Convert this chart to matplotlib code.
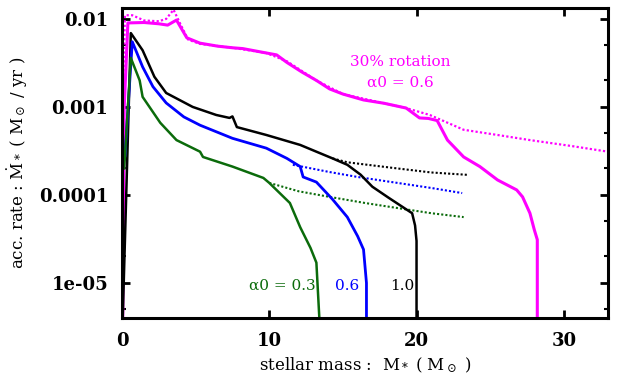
import numpy as np
import matplotlib
matplotlib.use("Agg")
from matplotlib import pyplot as plt
from matplotlib.ticker import LogLocator, NullFormatter, FixedLocator

plt.rcParams["mathtext.fontset"] = "dejavuserif"
plt.rcParams["font.family"] = "DejaVu Serif"

# %%
# accretion histories (stellar mass [Msun], accretion rate [Msun/yr])
mag_x = [0.05, 0.15, 0.4, 1.5, 2.5, 3.1, 3.7, 4.4, 5.3, 6.5, 7.5, 8.2, 9.8, 10.5, 11.2, 12.2, 13.2,
         14.1, 15.0, 16.4, 17.8, 19.3, 20.2, 20.8, 21.4, 22.1, 23.2, 24.3, 25.5, 26.8, 27.2, 27.7,
         28.0, 28.2, 28.2, 28.2]
mag_y = [4e-6, 1e-3, 9.0e-3, 9.1e-3, 8.8e-3, 8.5e-3, 9.7e-3, 6.1e-3, 5.3e-3, 4.9e-3, 4.7e-3, 4.6e-3,
         4.1e-3, 3.9e-3, 3.2e-3, 2.5e-3, 2.0e-3, 1.6e-3, 1.4e-3, 1.2e-3, 1.1e-3, 9.7e-4, 7.5e-4,
         7.4e-4, 7.0e-4, 4.2e-4, 2.7e-4, 2.1e-4, 1.48e-4, 1.14e-4, 9.5e-5, 6.2e-5, 4.0e-5, 3.1e-5,
         1.5e-5, 4e-6]
mag_dot_x = [0.05, 0.2, 0.7, 1.5, 2.5, 3.0, 3.5, 4.0, 4.5, 5.3, 7.5, 9.8, 11.2, 13.2, 15.0, 17.8,
             19.3, 20.9, 23.2, 25.5, 27.7, 30.5, 33.0]
mag_dot_y = [1e-3, 1.1e-2, 1.1e-2, 9.6e-3, 9.4e-3, 1.0e-2, 1.27e-2, 8.5e-3, 5.8e-3, 5.2e-3, 4.7e-3,
             4.1e-3, 3.3e-3, 2.0e-3, 1.4e-3, 1.1e-3, 9.7e-4, 8.1e-4, 5.5e-4, 4.8e-4, 4.2e-4,
             3.6e-4, 3.1e-4]

blk_x = [0.05, 0.6, 1.4, 2.2, 3.0, 4.8, 6.4, 7.3, 7.5, 7.8, 9.8, 12.1, 13.2, 14.3, 15.3, 16.2,
         17.0, 18.1, 19.7, 19.9, 20.0, 20.0]
blk_y = [4e-6, 6.9e-3, 4.4e-3, 2.2e-3, 1.44e-3, 1.0e-3, 8.1e-4, 7.5e-4, 7.8e-4, 5.9e-4, 4.8e-4,
         3.7e-4, 3.1e-4, 2.6e-4, 2.2e-4, 1.7e-4, 1.24e-4, 9.3e-5, 6.2e-5, 4.5e-5, 3.0e-5, 4e-6]
blk_dot_x = [14.3, 15.3, 16.2, 18.7, 21.0, 23.5]
blk_dot_y = [2.6e-4, 2.35e-4, 2.25e-4, 2.0e-4, 1.8e-4, 1.69e-4]

blu_x = [0.2, 0.7, 1.4, 2.1, 3.0, 4.2, 5.3, 7.5, 9.8, 11.2, 12.1, 12.3, 13.2, 14.3, 15.3, 16.0,
         16.4, 16.6, 16.6]
blu_y = [2.8e-4, 5.5e-3, 2.85e-3, 1.7e-3, 1.11e-3, 7.7e-4, 6.2e-4, 4.4e-4, 3.4e-4, 2.6e-4, 2.1e-4,
         1.6e-4, 1.4e-4, 8.9e-5, 5.6e-5, 3.4e-5, 2.4e-5, 1.0e-5, 4e-6]
blu_dot_x = [11.6, 14.1, 16.0, 18.7, 21.0, 23.1]
blu_dot_y = [2.2e-4, 1.82e-4, 1.6e-4, 1.37e-4, 1.2e-4, 1.05e-4]

grn_x = [0.15, 0.6, 1.2, 1.4, 2.6, 3.7, 5.3, 5.5, 7.5, 9.6, 10.0, 11.4, 12.1, 12.8, 13.2, 13.4]
grn_y = [2e-4, 3.6e-3, 2.0e-3, 1.3e-3, 6.6e-4, 4.2e-4, 3.1e-4, 2.7e-4, 2.1e-4, 1.56e-4, 1.37e-4,
         8.1e-5, 4.3e-5, 2.5e-5, 1.7e-5, 4e-6]
grn_dot_x = [10.0, 12.0, 14.1, 16.5, 18.7, 21.0, 23.2]
grn_dot_y = [1.37e-4, 1.1e-4, 9.5e-5, 8.1e-5, 7.1e-5, 6.2e-5, 5.6e-5]

MAGENTA = "#ff00ff"
BLUE = "#0000ff"
GREEN = "#0b6b0b"

# %%
fig = plt.figure(figsize=(6.18, 3.81), dpi=100)
ax = fig.add_axes([0.1974, 0.1654, 0.7864, 0.8136])

ax.plot(mag_dot_x, mag_dot_y, color=MAGENTA, lw=1.6, ls=(0, (1, 1)))
ax.plot(blk_dot_x, blk_dot_y, color="black", lw=1.5, ls=(0, (1, 1)))
ax.plot(blu_dot_x, blu_dot_y, color=BLUE, lw=1.5, ls=(0, (1, 1)))
ax.plot(grn_dot_x, grn_dot_y, color=GREEN, lw=1.5, ls=(0, (1, 1)))

ax.plot(mag_x, mag_y, color=MAGENTA, lw=2.2)
ax.plot(blk_x, blk_y, color="black", lw=1.8)
ax.plot(blu_x, blu_y, color=BLUE, lw=2.0)
ax.plot(grn_x, grn_y, color=GREEN, lw=1.8)

ax.set_yscale("log")
ax.set_xlim(0, 33)
ax.set_ylim(4e-6, 1.33e-2)

ax.set_xticks([0, 10, 20, 30])
ax.set_xticklabels(["0", "10", "20", "30"])
ax.set_yticks([1e-5, 1e-4, 1e-3, 1e-2])
ax.set_yticklabels(["1e-05", "0.0001", "0.001", "0.01"])
ax.yaxis.set_minor_locator(LogLocator(base=10, subs=(2.0, 5.0)))
ax.yaxis.set_minor_formatter(NullFormatter())

for lab in ax.get_xticklabels() + ax.get_yticklabels():
    lab.set_fontweight("bold")
    lab.set_fontsize(13)

ax.tick_params(which="major", direction="in", length=6, width=2, top=True, right=True, pad=10)
ax.tick_params(which="minor", direction="in", length=3, width=1.5, right=True)
for sp in ax.spines.values():
    sp.set_linewidth(2.2)

ax.set_xlabel(r"stellar mass :  M$_*$ ( M$_\odot$ )", fontsize=12, labelpad=4)
ax.set_ylabel(r"acc. rate : $\dot{\rm M}_*$ ( M$_\odot$ / yr )", fontsize=12, labelpad=6)

ax.text(18.9, 3.2e-3, "30% rotation", color=MAGENTA, fontsize=11, ha="center", va="center")
ax.text(18.9, 1.9e-3, "α0 = 0.6", color=MAGENTA, fontsize=11, ha="center", va="center")
ax.text(10.9, 9.3e-6, "α0 = 0.3", color=GREEN, fontsize=11, ha="center", va="center")
ax.text(15.3, 9.3e-6, "0.6", color=BLUE, fontsize=11, ha="center", va="center")
ax.text(19.0, 9.3e-6, "1.0", color="black", fontsize=11, ha="center", va="center")

fig.savefig("out.png", dpi=100)
